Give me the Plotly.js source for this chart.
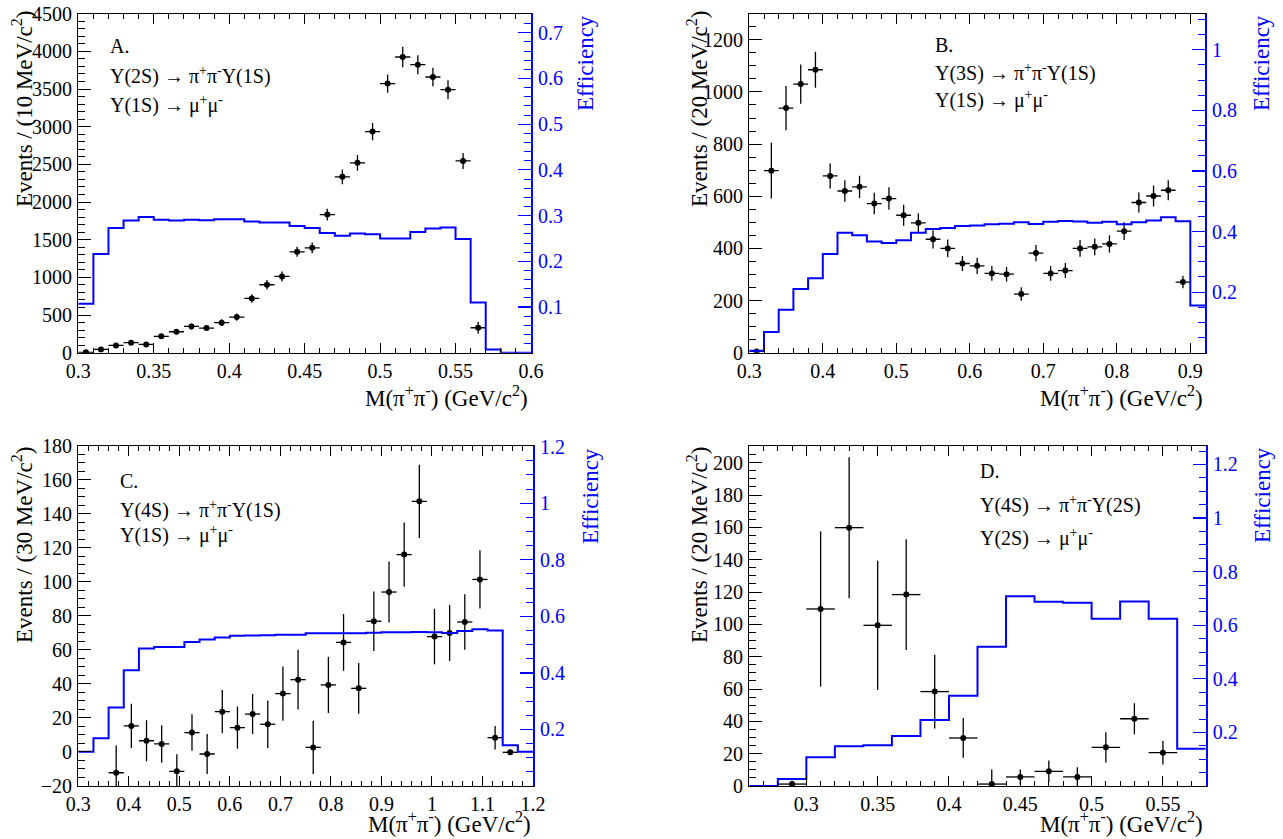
<!DOCTYPE html>
<html><head><meta charset="utf-8">
<script src="https://cdn.plot.ly/plotly-3.0.1.min.js"></script>
<style>body{margin:0;background:#fff}#chart{width:1283px;height:839px}</style>
</head><body><div id="chart"></div>
<script>
// ---------- Panel A: Y(2S) -> pi+pi- Y(1S) ----------
const aBinWidth = 0.01;
const aMass = [0.305,0.315,0.325,0.335,0.345,0.355,0.365,0.375,0.385,0.395,0.405,0.415,0.425,0.435,0.445,0.455,0.465,0.475,0.485,0.495,0.505,0.515,0.525,0.535,0.545,0.555,0.565];
const aEvents = [5,44,97,133,110,217,278,349,327,398,473,720,902,1012,1339,1392,1834,2334,2520,2935,3572,3925,3823,3660,3492,2546,331];
const aErr = [10,15,20,25,25,30,35,40,40,45,48,57,62,66,66,71,78,99,104,115,121,137,126,122,126,106,80];
const aEffLow = [0.30,0.31,0.32,0.33,0.34,0.35,0.36,0.37,0.38,0.39,0.40,0.41,0.42,0.43,0.44,0.45,0.46,0.47,0.48,0.49,0.50,0.51,0.52,0.53,0.54,0.55,0.56,0.57,0.58,0.59];
const aEff = [0.107,0.216,0.273,0.289,0.297,0.291,0.289,0.291,0.290,0.292,0.292,0.287,0.285,0.285,0.277,0.273,0.262,0.256,0.261,0.259,0.250,0.250,0.264,0.272,0.274,0.249,0.110,0.007,0,0];
const aXTicks = [0.3,0.35,0.4,0.45,0.5,0.55,0.6];
const aYTicks = [0,500,1000,1500,2000,2500,3000,3500,4000,4500];
const aEffTicks = [0.1,0.2,0.3,0.4,0.5,0.6,0.7];

// ---------- Panel B: Y(3S) -> pi+pi- Y(1S) ----------
const bBinWidth = 0.02;
const bMass = [0.31,0.33,0.35,0.37,0.39,0.41,0.43,0.45,0.47,0.49,0.51,0.53,0.55,0.57,0.59,0.61,0.63,0.65,0.67,0.69,0.71,0.73,0.75,0.77,0.79,0.81,0.83,0.85,0.87,0.89];
const bEvents = [5,698,938,1030,1085,678,620,636,572,591,527,498,435,400,342,333,304,301,225,382,304,315,400,406,417,466,576,601,623,271];
const bErr = [6,107,85,75,69,48,41,43,41,43,40,37,35,34,29,31,28,28,26,31,28,29,32,32,33,34,38,40,38,24];
const bEffLow = [0.30,0.32,0.34,0.36,0.38,0.40,0.42,0.44,0.46,0.48,0.50,0.52,0.54,0.56,0.58,0.60,0.62,0.64,0.66,0.68,0.70,0.72,0.74,0.76,0.78,0.80,0.82,0.84,0.86,0.88,0.90];
const bEff = [0.0066,0.068,0.142,0.21,0.246,0.326,0.396,0.388,0.367,0.362,0.371,0.396,0.408,0.412,0.418,0.420,0.424,0.426,0.431,0.425,0.432,0.435,0.433,0.429,0.432,0.424,0.431,0.436,0.447,0.434,0.156];
const bXTicks = [0.3,0.4,0.5,0.6,0.7,0.8,0.9];
const bYTicks = [0,200,400,600,800,1000,1200];
const bEffTicks = [0.2,0.4,0.6,0.8,1];

// ---------- Panel C: Y(4S) -> pi+pi- Y(1S) ----------
const cBinWidth = 0.03;
const cMass = [0.375,0.405,0.435,0.465,0.495,0.525,0.555,0.585,0.615,0.645,0.675,0.705,0.735,0.765,0.795,0.825,0.855,0.885,0.915,0.945,0.975,1.005,1.035,1.065,1.095,1.125,1.155];
const cEvents = [-12.2,15.3,6.6,4.7,-11.4,11.4,-1.2,23.7,14.3,22.3,16.3,34.3,42.5,2.7,39.4,64.4,37.4,76.8,94,116,147.3,67.8,69.9,76.4,101.4,8.4,-0.2];
const cErr = [16,13,12,11,10,10.7,11.8,12.7,12.4,11.8,14,15.9,17.6,15.6,16.5,16.7,14.9,17.5,17.9,18.9,21.5,16.3,16.4,16.3,17.1,6.9,1];
const cEffLow = [0.30,0.33,0.36,0.39,0.42,0.45,0.48,0.51,0.54,0.57,0.60,0.63,0.66,0.69,0.72,0.75,0.78,0.81,0.84,0.87,0.90,0.93,0.96,0.99,1.02,1.05,1.08,1.11,1.14,1.17];
const cEff = [0.121,0.169,0.278,0.409,0.486,0.492,0.492,0.509,0.518,0.525,0.531,0.532,0.533,0.535,0.535,0.540,0.540,0.540,0.540,0.542,0.544,0.544,0.545,0.544,0.541,0.548,0.554,0.550,0.144,0.121];
const cXTicks = [0.3,0.4,0.5,0.6,0.7,0.8,0.9,1,1.1,1.2];
const cYTicks = [-20,0,20,40,60,80,100,120,140,160,180];
const cEffTicks = [0.2,0.4,0.6,0.8,1,1.2];

// ---------- Panel D: Y(4S) -> pi+pi- Y(2S) ----------
const dBinWidth = 0.02;
const dMass = [0.29,0.31,0.33,0.35,0.37,0.39,0.41,0.43,0.45,0.47,0.49,0.51,0.53,0.55];
const dEvents = [1.2,109.5,159.8,99.4,118.4,58.4,29.7,1.2,5.6,9.1,5.6,23.9,41.6,20.6];
const dErr = [2,48,43.6,40,34.2,22.8,12.3,9,4.6,6.7,6,9.3,9.6,7.3];
const dEffLow = [0.26,0.28,0.30,0.32,0.34,0.36,0.38,0.40,0.42,0.44,0.46,0.48,0.50,0.52,0.54,0.56];
const dEff = [0,0.026,0.107,0.148,0.152,0.187,0.246,0.337,0.520,0.708,0.688,0.684,0.624,0.689,0.624,0.139];
const dXTicks = [0.3,0.35,0.4,0.45,0.5,0.55];
const dYTicks = [0,20,40,60,80,100,120,140,160,180,200];
const dEffTicks = [0.2,0.4,0.6,0.8,1,1.2];

// ---------- Texts ----------
const panelLabels = ["A.","B.","C.","D."];
const decayLines = [
  ["Υ(2S) → π<sup>+</sup>π<sup>-</sup>Υ(1S)","Υ(1S) → μ<sup>+</sup>μ<sup>-</sup>"],
  ["Υ(3S) → π<sup>+</sup>π<sup>-</sup>Υ(1S)","Υ(1S) → μ<sup>+</sup>μ<sup>-</sup>"],
  ["Υ(4S) → π<sup>+</sup>π<sup>-</sup>Υ(1S)","Υ(1S) → μ<sup>+</sup>μ<sup>-</sup>"],
  ["Υ(4S) → π<sup>+</sup>π<sup>-</sup>Υ(2S)","Υ(2S) → μ<sup>+</sup>μ<sup>-</sup>"]
];
const yTitles = ["Events / (10 MeV/c<sup>2</sup>)","Events / (20 MeV/c<sup>2</sup>)","Events / (30 MeV/c<sup>2</sup>)","Events / (20 MeV/c<sup>2</sup>)"];
const xTitle = "M(π<sup>+</sup>π<sup>-</sup>) (GeV/c<sup>2</sup>)";
const effTitle = "Efficiency";

// ---------- Build ----------
const W = 1283, H = 839;
const BLUE = '#0000ff';
const SERIF = 'Liberation Serif';
const px = v => v / W;
const py = v => 1 - v / H;

const panels = [
  {mass:aMass, ev:aEvents, err:aErr, low:aEffLow, eff:aEff, bw:aBinWidth,
   xdom:[78.3,531], ydom:[352.7,13.7], xr:[0.3,0.6], yr:[0,4500], er:[0,0.7417],
   xt:aXTicks, yt:aYTicks, et:aEffTicks, xm:0.01, ym:100, em:0.02, x0:0.3,
   lab:[108,46,75,104], ytit:[22,9], xtit:[530,397], etit:[586,13]},
  {mass:bMass, ev:bEvents, err:bErr, low:bEffLow, eff:bEff, bw:bBinWidth,
   xdom:[749.3,1205], ydom:[352.7,13.7], xr:[0.3,0.92], yr:[0,1300], er:[0,1.119],
   xt:bXTicks, yt:bYTicks, et:bEffTicks, xm:0.02, ym:50, em:0.05, x0:0.3,
   lab:[933,45,72,99], ytit:[697,9], xtit:[1205,397], etit:[1262,13]},
  {mass:cMass, ev:cEvents, err:cErr, low:cEffLow, eff:cEff, bw:cBinWidth,
   xdom:[78.3,533], ydom:[786,445.7], xr:[0.3,1.2], yr:[-20,180], er:[0,1.2035],
   xt:cXTicks, yt:cYTicks, et:cEffTicks, xm:0.02, ym:5, em:0.05, x0:0.3,
   lab:[118,481,509,534], ytit:[22,445], xtit:[533,839], etit:[590,446]},
  {mass:dMass, ev:dEvents, err:dErr, low:dEffLow, eff:dEff, bw:dBinWidth,
   xdom:[749.3,1205.7], ydom:[786,445.7], xr:[0.26,0.58], yr:[0,210.5], er:[0,1.27],
   xt:dXTicks, yt:dYTicks, et:dEffTicks, xm:0.01, ym:5, em:0.05, x0:0.26,
   lab:[978,471,504,537], ytit:[697,445], xtit:[1205,839], etit:[1262,445]}
];

const traces = [];
const layout = {
  width: W, height: H, autosize: false,
  margin: {l:0, r:0, t:0, b:0},
  paper_bgcolor: '#fff', plot_bgcolor: '#fff',
  showlegend: false,
  font: {family: SERIF, color: '#000'},
  annotations: []
};

const tickFont = {family: SERIF, size: 20, color: '#000'};

panels.forEach((p, i) => {
  const n = i + 1;
  const xa = n === 1 ? 'x' : 'x' + n;
  const yl = 'y' + (2 * n - 1 === 1 ? '' : (2 * n - 1));
  const yr = 'y' + (2 * n);
  const xKey = n === 1 ? 'xaxis' : 'xaxis' + n;
  const ylKey = 2 * n - 1 === 1 ? 'yaxis' : 'yaxis' + (2 * n - 1);
  const yrKey = 'yaxis' + (2 * n);

  // efficiency histogram (step line over bin edges)
  const ex = p.low.concat([p.low[p.low.length - 1] + p.bw]);
  const ey = p.eff.concat([p.eff[p.eff.length - 1]]);
  traces.push({
    type: 'scatter', mode: 'lines', x: ex, y: ey, xaxis: xa, yaxis: yr,
    line: {shape: 'hv', color: BLUE, width: 2}, hoverinfo: 'skip'
  });
  // data points
  traces.push({
    type: 'scatter', mode: 'markers', x: p.mass, y: p.ev, xaxis: xa, yaxis: yl,
    marker: {color: '#000', size: 6},
    error_y: {type: 'data', array: p.err, visible: true, color: '#000', thickness: 1.3, width: 0},
    error_x: {type: 'constant', value: p.bw / 2, visible: true, color: '#000', thickness: 1.3, width: 0}
  });

  layout[xKey] = {
    domain: [px(p.xdom[0]), px(p.xdom[1])], range: p.xr, anchor: yl,
    showline: true, linecolor: '#000', linewidth: 1.2, mirror: 'ticks',
    ticks: 'inside', ticklen: 10, tickwidth: 1, tickcolor: '#000',
    tickmode: 'array', tickvals: p.xt, tickfont: tickFont,
    minor: {tickmode: 'linear', tick0: p.x0, dtick: p.xm, ticks: 'inside', ticklen: 5, tickcolor: '#000', tickwidth: 1},
    showgrid: false, zeroline: false
  };
  layout[ylKey] = {
    domain: [py(p.ydom[0]), py(p.ydom[1])], range: p.yr, anchor: xa,
    showline: true, linecolor: '#000', linewidth: 1.2, mirror: false,
    ticks: 'inside', ticklen: 13, tickwidth: 1, tickcolor: '#000',
    tickmode: 'array', tickvals: p.yt, tickfont: tickFont, ticklabelstandoff: 1,
    minor: {tickmode: 'linear', tick0: p.yr[0], dtick: p.ym, ticks: 'inside', ticklen: 7, tickcolor: '#000', tickwidth: 1},
    showgrid: false, zeroline: false
  };
  layout[yrKey] = {
    overlaying: yl, side: 'right', anchor: xa, range: p.er,
    showline: true, linecolor: BLUE, linewidth: 2,
    ticks: 'inside', ticklen: 13, tickwidth: 1.2, tickcolor: BLUE,
    tickmode: 'array', tickvals: p.et, tickfont: {family: SERIF, size: 20, color: BLUE}, ticklabelstandoff: 1,
    minor: {tickmode: 'linear', tick0: 0, dtick: p.em, ticks: 'inside', ticklen: 7, tickcolor: BLUE, tickwidth: 1},
    showgrid: false, zeroline: false
  };

  const txtFont = {family: SERIF, size: 20, color: '#000'};
  layout.annotations.push({xref:'paper', yref:'paper', x: px(p.lab[0]), y: py(p.lab[1]), xanchor:'left', yanchor:'middle', text: panelLabels[i], showarrow:false, font: txtFont});
  layout.annotations.push({xref:'paper', yref:'paper', x: px(p.lab[0]), y: py(p.lab[2]), xanchor:'left', yanchor:'middle', text: decayLines[i][0], showarrow:false, font: txtFont});
  layout.annotations.push({xref:'paper', yref:'paper', x: px(p.lab[0]), y: py(p.lab[3]), xanchor:'left', yanchor:'middle', text: decayLines[i][1], showarrow:false, font: txtFont});
  // axis titles (right/top aligned like the original)
  layout.annotations.push({xref:'paper', yref:'paper', x: px(p.ytit[0]), y: py(p.ytit[1]), xanchor:'center', yanchor:'top', textangle: -90, text: yTitles[i], showarrow:false, font: {family: SERIF, size: 23, color: '#000'}});
  layout.annotations.push({xref:'paper', yref:'paper', x: px(p.xtit[0]), y: py(p.xtit[1]), xanchor:'right', yanchor: (p.xtit[1] > 800 ? 'bottom' : 'middle'), text: xTitle, showarrow:false, font: {family: SERIF, size: 23, color: '#000'}});
  layout.annotations.push({xref:'paper', yref:'paper', x: px(p.etit[0]), y: py(p.etit[1]), xanchor:'center', yanchor:'top', textangle: -90, text: effTitle, showarrow:false, font: {family: SERIF, size: 23, color: BLUE}});
});

Plotly.newPlot('chart', traces, layout, {staticPlot: true, displayModeBar: false});
</script>
</body></html>
